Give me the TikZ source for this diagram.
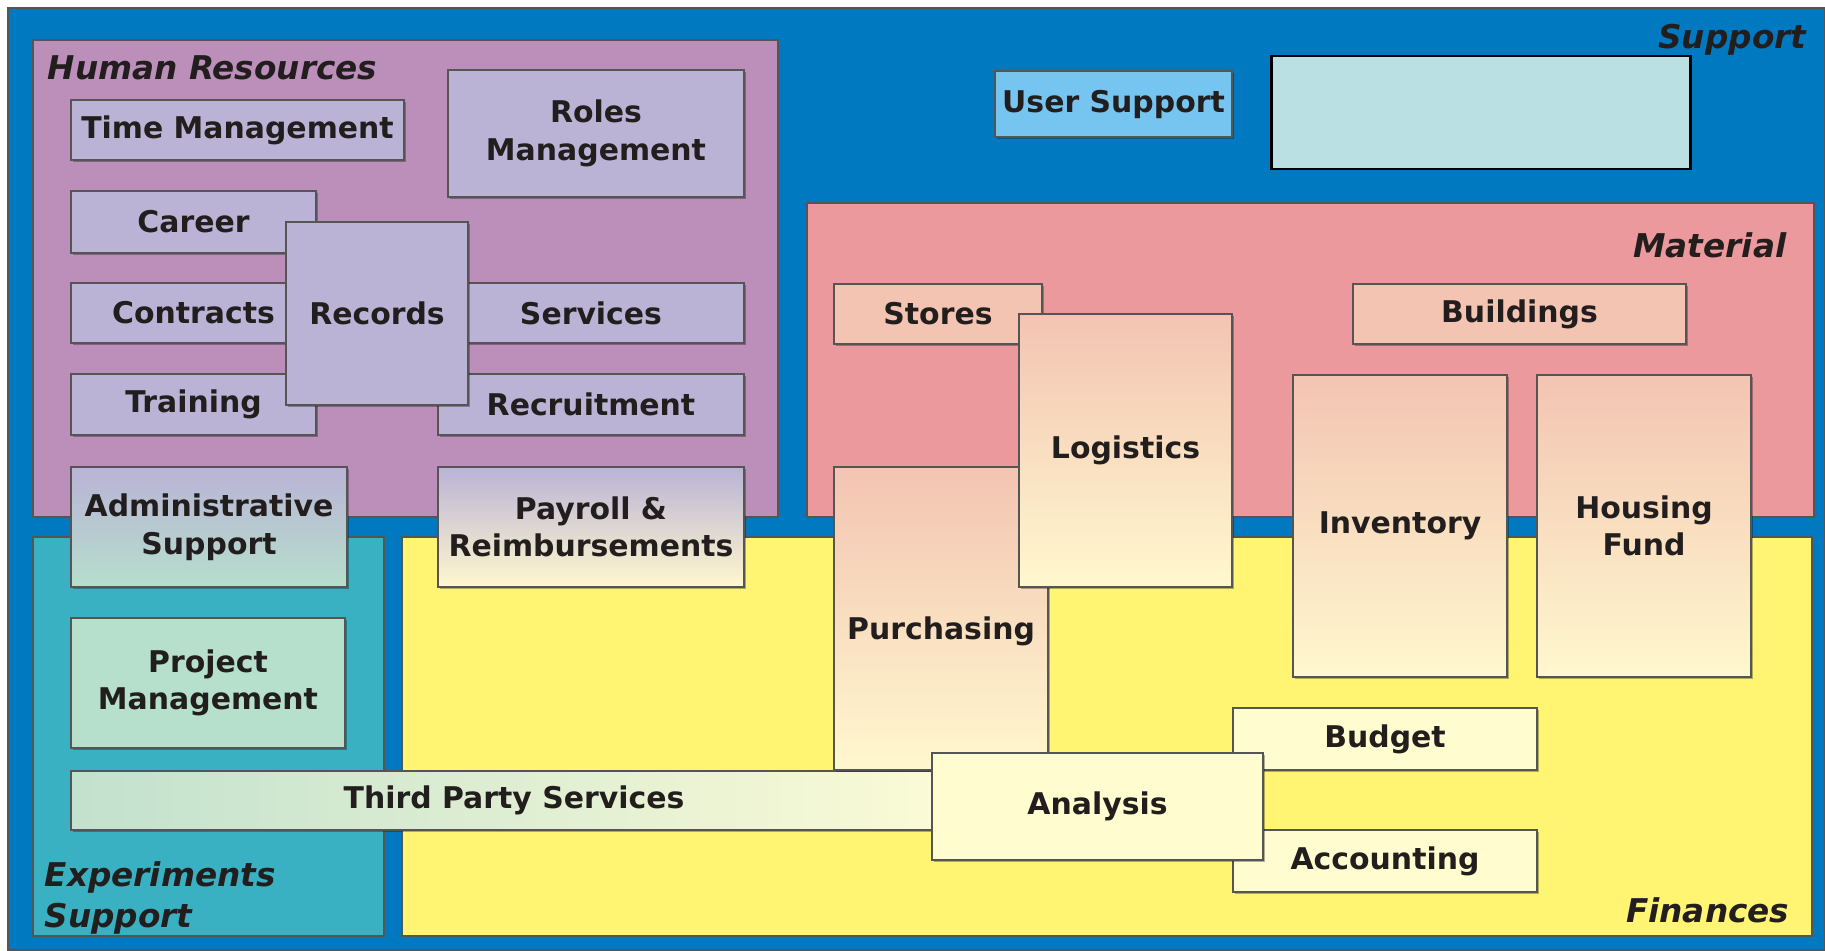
\documentclass[tikz,border=0pt]{standalone}
\usepackage{fontspec}
\setmainfont{DejaVu Sans}
\usetikzlibrary{shadows}

\definecolor{bgblue}{RGB}{0,121,193}
\definecolor{edgegray}{RGB}{85,85,85}
\definecolor{textdark}{RGB}{34,30,30}
\definecolor{hrarea}{RGB}{188,143,187}
\definecolor{hrnode}{RGB}{186,179,214}
\definecolor{matarea}{RGB}{236,153,157}
\definecolor{matnode}{RGB}{243,196,178}
\definecolor{finarea}{RGB}{255,245,115}
\definecolor{finnode}{RGB}{255,253,208}
\definecolor{paleyellow}{RGB}{255,248,206}
\definecolor{exparea}{RGB}{57,177,194}
\definecolor{expnode}{RGB}{182,223,204}
\definecolor{tpleft}{RGB}{194,225,206}
\definecolor{tpright}{RGB}{252,251,214}
\definecolor{usernode}{RGB}{118,196,240}
\definecolor{cyanbox}{RGB}{186,224,228}

\tikzset{
  region/.style={draw=edgegray, line width=0.6pt},
  box/.style={draw=edgegray, line width=0.6pt, inner sep=0pt, align=center,
    font=\fontsize{8.5}{10.7}\selectfont\bfseries, text=textdark,
    drop shadow={shadow xshift=0.5pt, shadow yshift=-0.5pt, fill=black, opacity=0.3}},
  arealabel/.style={inner sep=0pt, text=textdark,
    font=\fontsize{9.3}{11.6}\selectfont\bfseries\itshape},
}

\begin{document}
\begin{tikzpicture}[x=0.01cm, y=-0.01cm]
    \useasboundingbox (0,0) rectangle (1825,950);
    % Support background
    \draw[region, fill=bgblue] (8,8) rectangle (1825,950);
    \node[arealabel, anchor=base east] (supportlbl) at (1807,48) {Support};
    \node[box, fill=usernode, minimum width=2.37cm, minimum height=0.66cm] (usersup) at (1113.5,104) {User Support};
    \node[draw=black, line width=0.8pt, fill=cyanbox, minimum width=4.18cm, minimum height=1.13cm] (blank) at (1481,112.5) {};
    % Areas
    \draw[region, fill=hrarea] (33,40) rectangle (778,517);
    \draw[region, fill=matarea] (807,203) rectangle (1814,517);
    \draw[region, fill=exparea] (33,537) rectangle (384,936);
    \draw[region, fill=finarea] (402,537) rectangle (1812,936);
    \node[arealabel, anchor=base west] (hrlbl) at (47,79) {Human Resources};
    \node[arealabel, anchor=base east] (matlbl) at (1787,257) {Material};
    \node[arealabel, anchor=west, align=left] (explbl) at (44,898) {Experiments\\Support};
    \node[arealabel, anchor=base east] (finlbl) at (1790,922) {Finances};
    % Human Resources
    \node[box, fill=hrnode, minimum width=3.33cm, minimum height=0.60cm] (timemgmt) at (237.5,130) {Time Management};
    \node[box, fill=hrnode, minimum width=2.96cm, minimum height=1.27cm] (roles) at (596,133.5) {Roles\\Management};
    \node[box, fill=hrnode, minimum width=2.45cm, minimum height=0.62cm] (career) at (193.5,222) {Career};
    \node[box, fill=hrnode, minimum width=2.45cm, minimum height=0.60cm] (contracts) at (193.5,313) {Contracts};
    \node[box, fill=hrnode, minimum width=2.45cm, minimum height=0.61cm] (training) at (193.5,404.5) {Training};
    \node[box, fill=hrnode, minimum width=3.06cm, minimum height=0.60cm] (services) at (591,313) {Services};
    \node[box, fill=hrnode, minimum width=3.06cm, minimum height=0.61cm] (recruit) at (591,404.5) {Recruitment};
    \node[box, fill=hrnode, minimum width=1.82cm, minimum height=1.83cm] (records) at (377,313.5) {Records};
    \node[box, top color=hrnode, bottom color=expnode, minimum width=2.76cm, minimum height=1.20cm] (admin) at (209,527) {Administrative\\Support};
    \node[box, top color=hrnode, bottom color=paleyellow, minimum width=3.06cm, minimum height=1.20cm] (payroll) at (591,527) {Payroll \&\\Reimbursements};
    % Experiments Support
    \node[box, fill=expnode, minimum width=2.74cm, minimum height=1.30cm] (projmgmt) at (208,683) {Project\\Management};
    \node[box, left color=tpleft, right color=tpright, minimum width=8.86cm, minimum height=0.59cm] (thirdparty) at (514,800.5) {Third Party Services};
    % Material
    \node[box, fill=matnode, minimum width=2.08cm, minimum height=0.60cm] (stores) at (938,314) {Stores};
    \node[box, fill=matnode, minimum width=3.33cm, minimum height=0.60cm] (buildings) at (1519.5,314) {Buildings};
    \node[box, top color=matnode, bottom color=paleyellow, minimum width=2.14cm, minimum height=3.03cm, text height=0.48cm] (purchasing) at (941,618.5) {Purchasing};
    \node[box, top color=matnode, bottom color=paleyellow, minimum width=2.13cm, minimum height=2.73cm] (logistics) at (1125.5,450.5) {Logistics};
    \node[box, top color=matnode, bottom color=paleyellow, minimum width=2.14cm, minimum height=3.02cm] (inventory) at (1400,526) {Inventory};
    \node[box, top color=matnode, bottom color=paleyellow, minimum width=2.14cm, minimum height=3.02cm] (housing) at (1644,526) {Housing\\Fund};
    % Finances
    \node[box, fill=finnode, minimum width=3.04cm, minimum height=0.62cm] (budget) at (1385,739) {Budget};
    \node[box, fill=finnode, minimum width=3.04cm, minimum height=0.62cm] (accounting) at (1385,861) {Accounting};
    \node[box, fill=finnode, minimum width=3.31cm, minimum height=1.07cm] (analysis) at (1097.5,806.5) {Analysis};
\end{tikzpicture}
\end{document}
